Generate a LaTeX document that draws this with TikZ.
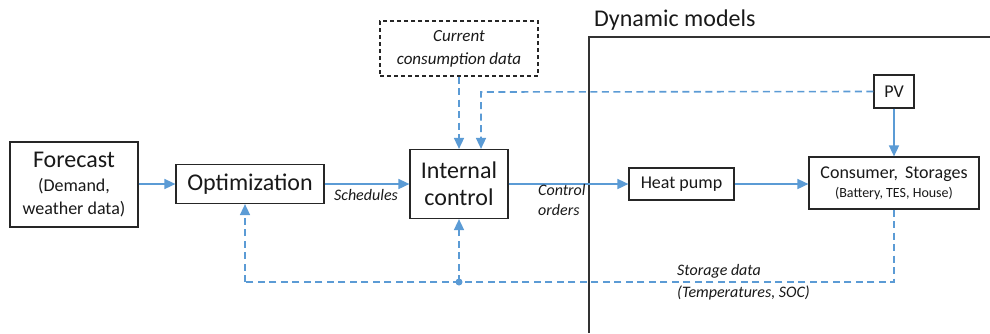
\documentclass[tikz,border=0pt]{standalone}
\usepackage{fontspec}
\setmainfont{Carlito}
\usetikzlibrary{arrows.meta,positioning}
\definecolor{ablue}{RGB}{91,155,213}
\definecolor{txt}{RGB}{25,25,25}
\tikzset{
  blk/.style={draw=black!85, line width=1.2pt, fill=white, text=txt, align=center, inner sep=0pt},
  flow/.style={draw=ablue, line width=1.6pt, -{Triangle[length=11pt,width=10pt]}},
  dflow/.style={flow, dash pattern=on 7pt off 4.5pt},
  dline/.style={draw=ablue, line width=1.6pt, dash pattern=on 7pt off 4.5pt},
  lbl/.style={text=txt, font=\fontsize{16}{19}\selectfont\itshape, inner sep=0pt, align=left}
}
\begin{document}
\begin{tikzpicture}[x=1pt,y=-1pt]
\useasboundingbox (0,0) rectangle (990,333);
\fill[white] (0,0) rectangle (990,333);
% Dynamic models frame
\draw[black!80, line width=1.2pt] (990,37) -- (589,37) -- (589,333);
\node[anchor=south west, inner sep=0pt, text=txt, font=\fontsize{24}{26}\selectfont] (dyn) at (594,31) {Dynamic models};
% boxes
\node[blk, minimum width=128pt, minimum height=85pt, font=\fontsize{18}{23}\selectfont] (fc) at (74,184.5)
  {{\fontsize{24}{26}\selectfont Forecast}\\[1pt](Demand,\\weather data)};
\node[blk, minimum width=148pt, minimum height=39pt, font=\fontsize{24}{26}\selectfont] (opt) at (250,184) {Optimization};
\node[blk, dashed, dash pattern=on 4pt off 3pt, minimum width=158pt, minimum height=55pt, font=\fontsize{17}{23}\selectfont\itshape] (cur) at (459,48.5) {Current\\consumption data};
\node[blk, minimum width=98pt, minimum height=69pt, font=\fontsize{24}{27}\selectfont] (ic) at (459,184) {Internal\\control};
\node[blk, minimum width=105pt, minimum height=32pt, font=\fontsize{18}{20}\selectfont] (hp) at (681.5,184) {Heat pump};
\node[blk, minimum width=170pt, minimum height=52pt, font=\fontsize{14}{19}\selectfont] (cons) at (894,183)
  {{\fontsize{18}{20}\selectfont Consumer,\ \,Storages}\\(Battery, TES, House)};
\node[blk, minimum width=40pt, minimum height=33pt, font=\fontsize{18}{20}\selectfont] (pv) at (894,91.5) {PV};
% solid flows
\draw[flow] (fc.east |- opt.west) -- (opt.west);
\draw[flow] (opt.east) -- (ic.west);
\draw[flow] (ic.east) -- (hp.west);
\draw[flow] (hp.east) -- (hp.east -| cons.west);
\draw[flow] (pv.south) -- (cons.north);
% dashed flows
\draw[dflow] (cur.south) -- (ic.north);
\coordinate (pvc) at (481,92);
\draw[dflow] (pv.west) -- (pvc) -- (pvc |- ic.north);
\coordinate (c1) at (894,282);
\coordinate (jn) at (459,282);
\coordinate (c2) at (245,282);
\draw[dline] (cons.south) -- (c1) -- (c2);
\draw[dflow] (c2) -- (c2 |- opt.south);
\draw[dflow] (jn) -- (ic.south);
\fill[ablue] (jn) circle (3.5pt);
% labels
\node[lbl, anchor=north] (sch) at (366,189) {Schedules};
\node[lbl, anchor=north west, font=\fontsize{16}{20}\selectfont\itshape] (co) at (538,184) {Control\\orders};
\node[lbl, anchor=west] (sd) at (677,271) {Storage data};
\node[lbl, anchor=west] (sd2) at (677,293) {(Temperatures, SOC)};
\end{tikzpicture}
\end{document}
